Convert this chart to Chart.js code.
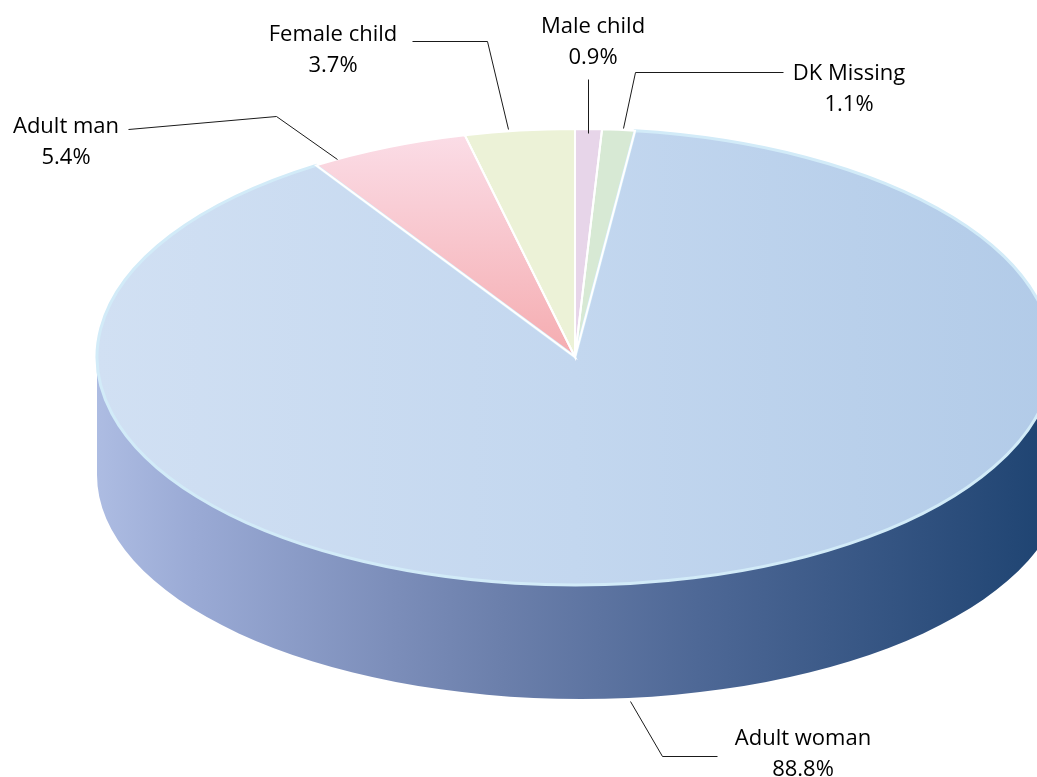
<!DOCTYPE html>
<html><head><meta charset="utf-8">
<script src="https://cdn.jsdelivr.net/npm/chart.js@4.4.0/dist/chart.umd.min.js"></script>
<style>html,body{margin:0;padding:0;background:#fff;overflow:hidden}canvas{display:block}</style>
</head><body>
<canvas id="c" width="1037" height="777"></canvas>
<script>
// ---- data (clockwise from 12 o'clock) ----
const categories = ['Male child', 'DK Missing', 'Adult woman', 'Adult man', 'Female child'];
const shares = [0.9, 1.1, 88.8, 5.4, 3.7];

// ---- styles ----
const sliceColors = ['#e7d5e9', '#d7e9d4', '#c4d8ef', '#f8c6d0', '#ecf2d7'];
const edgeColors = ['#ffffff', '#ffffff', '#d2ebf8', '#ffffff', '#ffffff'];

// ---- 3D geometry of the tilted pie ----
const geo = { cx: 575, cy: 357, rx: 478, ry: 228, depth: 118, grow: 6, shrink: 4 };
const K = geo.ry / geo.rx;

// ---- label layout (annotation placement) ----
const labelLayout = [
  { x: 593, y: 33, line: [[588, 79], [588, 133]] },
  { x: 849, y: 80, line: [[783, 72], [635, 72], [623, 128]] },
  { x: 803, y: 745, line: [[717, 756], [662, 756], [630, 701]] },
  { x: 66, y: 133, line: [[128, 129], [276, 116], [337, 159]] },
  { x: 333, y: 41, line: [[412, 41], [487, 41], [508, 129]] }
];

function fillFor(c) {
  const chart = c.chart, area = chart.chartArea, i = c.dataIndex;
  if (!area) return sliceColors[i];
  const ctx = chart.ctx;
  const mx = (area.left + area.right) / 2, my = (area.top + area.bottom) / 2;
  if (i === 2) {
    const g = ctx.createLinearGradient(mx - geo.rx, 0, mx + geo.rx, 0);
    g.addColorStop(0, '#d1e0f3'); g.addColorStop(0.5, '#c3d7ef'); g.addColorStop(1, '#b2cbe8');
    return g;
  }
  if (i === 3) {
    const g = ctx.createLinearGradient(0, my - geo.rx, 0, my);
    g.addColorStop(0, '#fbdee8'); g.addColorStop(1, '#f5acb0');
    return g;
  }
  return sliceColors[i];
}

function screenEllipse(chart, el) {
  const c0 = chart.getDatasetMeta(0).data[0];
  const x = el.x + geo.cx - c0.x;
  const y = geo.cy + K * (el.y - c0.y);
  return { x, y, rx: el.outerRadius, ry: el.outerRadius * K };
}

function drawSides(chart) {
  const ctx = chart.ctx;
  const arcs = chart.getDatasetMeta(0).data;
  arcs.forEach((el, i) => {
    const e = screenEllipse(chart, el);
    const bx = e.x + geo.grow, brx = e.rx + geo.grow, by = e.y + geo.depth, bry = e.ry - geo.shrink;
    for (let n = -1; n <= 1; n++) {
      const a = Math.max(el.startAngle, 2 * Math.PI * n);
      const b = Math.min(el.endAngle, Math.PI + 2 * Math.PI * n);
      if (b <= a) continue;
      const g = ctx.createLinearGradient(e.x - e.rx, 0, bx + brx, 0);
      g.addColorStop(0, '#adbce2');
      g.addColorStop(0.1, '#9aaad5');
      g.addColorStop(0.31, '#7b8db9');
      g.addColorStop(0.42, '#6b7fab');
      g.addColorStop(0.62, '#4e6896');
      g.addColorStop(0.89, '#2b4d7b');
      g.addColorStop(1, '#1c4270');
      ctx.save();
      ctx.beginPath();
      ctx.ellipse(e.x, e.y, e.rx, e.ry, 0, a, b, false);
      ctx.lineTo(bx + brx * Math.cos(b), by + bry * Math.sin(b));
      ctx.ellipse(bx, by, brx, bry, 0, b, a, true);
      ctx.closePath();
      ctx.fillStyle = i === 2 ? g : sliceColors[i];
      ctx.fill();
      ctx.restore();
    }
  });
}

function drawEdges(chart) {
  const ctx = chart.ctx;
  const arcs = chart.getDatasetMeta(0).data;
  const order = [2, 3, 4, 0, 1];
  order.forEach(i => {
    const el = arcs[i];
    const e = screenEllipse(chart, el);
    ctx.save();
    ctx.beginPath();
    ctx.moveTo(e.x, e.y);
    ctx.ellipse(e.x, e.y, e.rx, e.ry, 0, el.startAngle, el.endAngle, false);
    ctx.closePath();
    ctx.lineJoin = 'miter';
    ctx.lineWidth = i === 2 ? 3 : 2;
    ctx.strokeStyle = edgeColors[i];
    ctx.stroke();
    ctx.restore();
  });
}

function drawLabels(chart) {
  const ctx = chart.ctx;
  ctx.save();
  ctx.strokeStyle = '#1a1a1a';
  ctx.lineWidth = 1;
  labelLayout.forEach((L, i) => {
    ctx.beginPath();
    L.line.forEach((p, j) => j ? ctx.lineTo(p[0] + 0.5, p[1] + 0.5) : ctx.moveTo(p[0] + 0.5, p[1] + 0.5));
    ctx.stroke();
    ctx.fillStyle = '#000';
    ctx.font = '22px "Open Sans"';
    ctx.textAlign = 'center';
    ctx.textBaseline = 'alphabetic';
    ctx.fillText(categories[i], L.x, L.y);
    ctx.fillText(shares[i].toFixed(1) + '%', L.x, L.y + 31);
  });
  ctx.restore();
}

const tiltPlugin = {
  id: 'tilt',
  beforeDatasetsDraw(chart) {
    const ctx = chart.ctx;
    drawSides(chart);
    const c0 = chart.getDatasetMeta(0).data[0];
    ctx.save();
    ctx.translate(geo.cx - c0.x, geo.cy);
    ctx.scale(1, K);
    ctx.translate(0, -c0.y);
  },
  afterDatasetsDraw(chart) {
    chart.ctx.restore();
    drawEdges(chart);
    drawLabels(chart);
  }
};

new Chart(document.getElementById('c'), {
  type: 'pie',
  data: {
    labels: categories,
    datasets: [{
      data: shares,
      backgroundColor: fillFor,
      borderWidth: 0,
      radius: geo.rx,
      clip: false
    }]
  },
  options: {
    responsive: false,
    animation: false,
    events: [],
    radius: geo.rx,
    layout: { padding: { left: 2 * (geo.cx - 1037 / 2), right: 0, top: 0, bottom: 0 } },
    plugins: { legend: { display: false }, tooltip: { enabled: false } }
  },
  plugins: [tiltPlugin]
});
</script>
</body></html>
